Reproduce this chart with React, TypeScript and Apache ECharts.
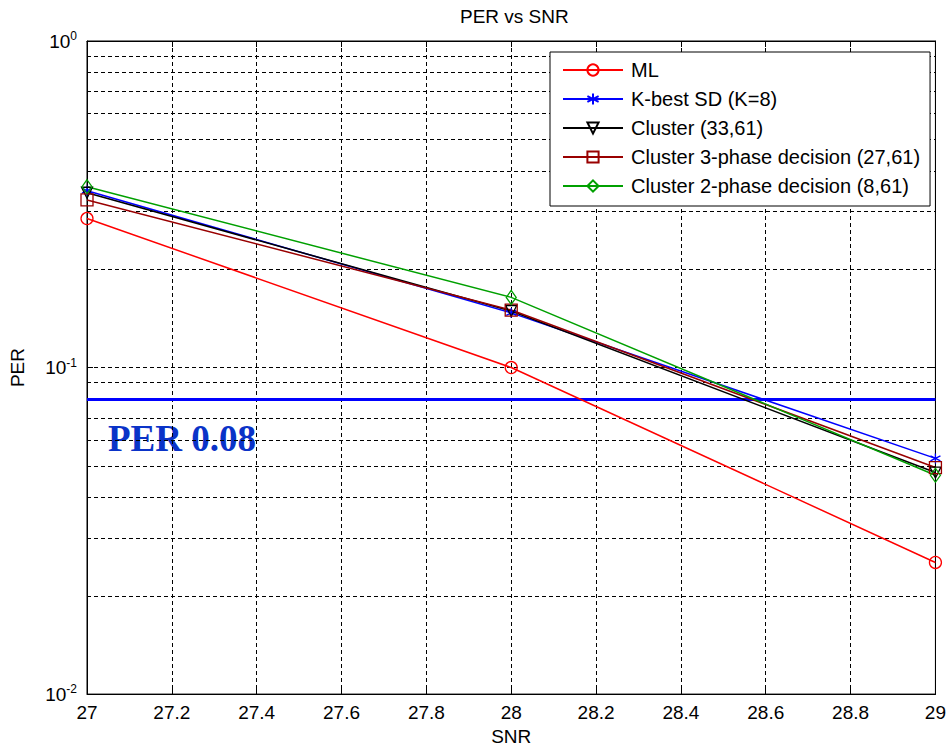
import React, { useEffect, useRef } from "react";
import * as echarts from "echarts";

const snr = [27, 28, 29];
const perML = [0.286, 0.1, 0.0253];
const perKBest = [0.348, 0.147, 0.0527];
const perCluster = [0.343, 0.149, 0.0477];
const perCluster3 = [0.326, 0.15, 0.0494];
const perCluster2 = [0.358, 0.164, 0.0468];
const perTarget = 0.08;
const gridLineValues = [
  0.02, 0.03, 0.04, 0.05, 0.06, 0.07, 0.08, 0.09, 0.1,
  0.2, 0.3, 0.4, 0.5, 0.6, 0.7, 0.8, 0.9,
];
const seriesNames = [
  "ML",
  "K-best SD (K=8)",
  "Cluster (33,61)",
  "Cluster 3-phase decision (27,61)",
  "Cluster 2-phase decision (8,61)",
];

const FONT = "Liberation Sans, Arial, sans-serif";
const ASTERISK = "path://M5,0 L5,10 M0.67,2.5 L9.33,7.5 M0.67,7.5 L9.33,2.5";

export default function App() {
  const ref = useRef<HTMLDivElement>(null);
  useEffect(() => {
    if (!ref.current) return;
    const chart = echarts.init(ref.current, undefined, { renderer: "svg" });
    const pts = (ys: number[]) => snr.map((x, i) => [x, ys[i]]);
    const mk = (
      name: string,
      ys: number[],
      color: string,
      symbol: string,
      size: number | number[],
      rotate = 0
    ) => ({
      name,
      type: "line",
      data: pts(ys),
      symbol,
      symbolSize: size,
      symbolRotate: rotate,
      showSymbol: true,
      z: 5,
      lineStyle: { color, width: 1.5 },
      itemStyle: { color: "rgba(0,0,0,0)", borderColor: color, borderWidth: 1.3 },
    });
    const option: any = {
      animation: false,
      backgroundColor: "#fff",
      title: {
        text: "PER vs SNR",
        left: 455,
        top: 2,
        textStyle: { fontFamily: FONT, fontSize: 19, fontWeight: "normal", color: "#000" },
      },
      grid: {
        left: 87,
        right: 12,
        top: 41,
        bottom: 56,
        show: true,
        borderColor: "#000",
        borderWidth: 1,
        backgroundColor: "transparent",
      },
      legend: {
        data: seriesNames,
        orient: "vertical",
        left: 550,
        top: 52,
        z: 100,
        backgroundColor: "#fff",
        borderColor: "#000",
        borderWidth: 1,
        padding: [8, 10, 10, 12],
        itemWidth: 60,
        itemHeight: 14,
        itemGap: 9,
        textStyle: { fontFamily: FONT, fontSize: 20, color: "#000", padding: [0, 0, 0, 3] },
      },
      xAxis: [
        {
          type: "value",
          min: 27,
          max: 29,
          interval: 0.2,
          name: "SNR",
          nameLocation: "middle",
          nameGap: 32,
          nameTextStyle: { fontFamily: FONT, fontSize: 19, color: "#000" },
          axisLine: { show: true, lineStyle: { color: "#000", width: 1 } },
          axisTick: { show: true, inside: true, length: 6, lineStyle: { color: "#000" } },
          axisLabel: { fontFamily: FONT, fontSize: 19, color: "#000", margin: 9 },
          splitLine: { show: true, lineStyle: { color: "#000", width: 1, type: [4, 3] } },
        },
        {
          type: "value",
          position: "top",
          min: 27,
          max: 29,
          interval: 0.2,
          axisLine: { show: true, lineStyle: { color: "#000", width: 1 } },
          axisTick: { show: true, inside: true, length: 6, lineStyle: { color: "#000" } },
          axisLabel: { show: false },
          splitLine: { show: false },
        },
      ],
      yAxis: [
        {
          type: "log",
          logBase: 10,
          min: 0.01,
          max: 1,
          name: "PER",
          nameLocation: "middle",
          nameGap: 60,
          nameTextStyle: { fontFamily: FONT, fontSize: 19, color: "#000" },
          axisLine: { show: true, lineStyle: { color: "#000", width: 1 } },
          axisTick: { show: true, inside: true, length: 6, lineStyle: { color: "#000" } },
          splitLine: { show: false },
          axisLabel: {
            margin: 10,
            color: "#000",
            fontFamily: FONT,
            fontSize: 19,
            formatter: (v: number) => "10{sup|" + Math.round(Math.log10(v)) + "}",
            rich: {
              sup: { fontFamily: FONT, fontSize: 12, color: "#000", padding: [0, 0, 10, 0] },
            },
          },
        },
        {
          type: "log",
          logBase: 10,
          min: 0.01,
          max: 1,
          position: "right",
          axisLine: { show: true, lineStyle: { color: "#000", width: 1 } },
          axisTick: { show: true, inside: true, length: 6, lineStyle: { color: "#000" } },
          axisLabel: { show: false },
          splitLine: { show: false },
        },
      ],
      series: [
        {
          name: "grid-lines",
          type: "line",
          data: [],
          z: 1,
          silent: true,
          markLine: {
            silent: true,
            symbol: ["none", "none"],
            label: { show: false },
            lineStyle: { color: "#000", width: 1, type: [4, 3] },
            data: gridLineValues.map((v) => ({ yAxis: v })),
          },
        },
        {
          name: "per-target",
          type: "line",
          data: [],
          z: 3,
          silent: true,
          markLine: {
            silent: true,
            symbol: ["none", "none"],
            label: { show: false },
            lineStyle: { color: "#0000ff", width: 3, type: "solid" },
            data: [{ yAxis: perTarget }],
          },
        },
        mk(seriesNames[0], perML, "#ff0000", "circle", 12),
        mk(seriesNames[1], perKBest, "#0000ff", ASTERISK, 10),
        mk(seriesNames[2], perCluster, "#000000", "triangle", 11, 180),
        mk(seriesNames[3], perCluster3, "#990000", "rect", 12),
        mk(seriesNames[4], perCluster2, "#00a000", "diamond", [10, 14]),
      ],
      graphic: [
        {
          type: "text",
          left: 108,
          top: 420,
          style: {
            text: "PER 0.08",
            fontFamily: "Liberation Serif, Times New Roman, serif",
            fontWeight: "bold",
            fontSize: 37,
            fill: "#0a33c8",
          },
        },
      ],
    };
    chart.setOption(option);
    return () => chart.dispose();
  }, []);
  return <div ref={ref} style={{ width: 949, height: 751, position: "absolute", left: 0, top: 0 }} />;
}
